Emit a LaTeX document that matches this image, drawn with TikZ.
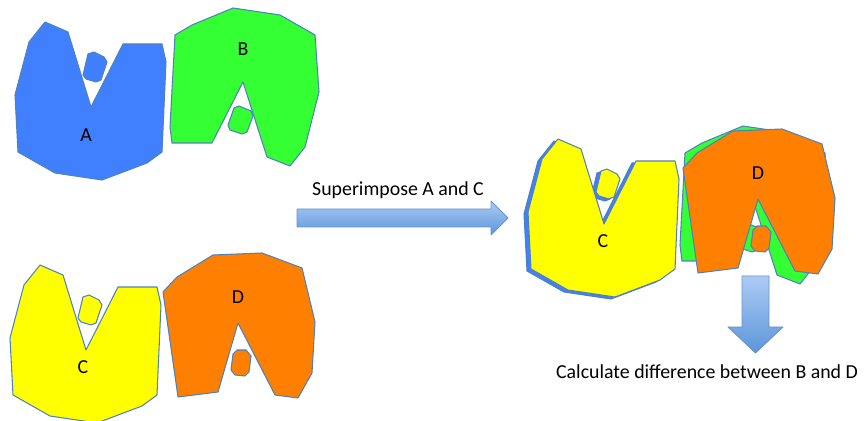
\documentclass[tikz,border=0pt]{standalone}
\usepackage{fontspec}
\setmainfont{Carlito}
\definecolor{BlobBlue}  {RGB}{64,128,255}
\definecolor{BlobGreen} {RGB}{51,255,51}
\definecolor{BlobYellow}{RGB}{255,255,0}
\definecolor{BlobOrange}{RGB}{255,128,0}
\definecolor{EdgeBlue}  {RGB}{79,129,189}
\definecolor{ArrowLight}{RGB}{172,203,245}
\definecolor{ArrowDark} {RGB}{92,150,218}
\usetikzlibrary{positioning}
%% outlines of the four pieces (pixel units)
\def\outlineAC{(45,22)--(68,32)--(91,107)--(123,44)--(162,44)--(166,62)--(162,152)
  --(147,163)--(102,180)--(55,173)--(18,152)--(15,95)--(29,42)--cycle}
\def\chipAC{(88,54)--(94,52)--(104,57)--(107,62)--(101,80)--(96,82)--(86,79)--(83,75)--cycle}
\def\outlineB{(175,35)--(192,25)--(233,8)--(280,15)--(315,35)--(319,92)--(305,147)
  --(290,166)--(267,157)--(243,82)--(212,143)--(172,143)--(170,127)--cycle}
\def\chipB{(234,108)--(239,106)--(251,111)--(253,116)--(247,132)--(242,134)--(230,130)--(228,125)--cycle}
\def\outlineD{(163,292)--(177,277)--(213,255)--(262,253)--(302,268)--(315,322)--(312,373)
  --(298,398)--(275,395)--(238,323)--(218,392)--(178,397)--cycle}
\def\chipD{(237,350)--(246,350)--(251,356)--(249,372)--(245,376)--(235,375)--(231,370)--(233,354)--cycle}

\begin{document}
\begin{tikzpicture}[x=0.02cm,y=-0.02cm,
    blob/.style={draw=EdgeBlue,line width=0.6pt,line join=round},
    lbl/.style={font=\fontsize{11.3}{13.5}\selectfont,inner sep=0pt},
    blockarrow/.style={draw=EdgeBlue!85,line width=0.5pt,line join=round,
                       top color=ArrowLight,bottom color=ArrowDark}]
  \useasboundingbox (0,0) rectangle (864,421);
  %% A and B
  \filldraw[blob,fill=BlobBlue] \outlineAC;
  \filldraw[blob,fill=BlobBlue] \chipAC;
  \filldraw[blob,fill=BlobGreen] \outlineB;
  \filldraw[blob,fill=BlobGreen] \chipB;
  \node[lbl] (labA) at (86,135) {A};
  \node[lbl] (labB) at (243,49) {B};
  %% C and D (C has the outline of A)
  \begin{scope}[shift={(-5,243)}]
    \filldraw[blob,fill=BlobYellow] \outlineAC;
    \filldraw[blob,fill=BlobYellow] \chipAC;
  \end{scope}
  \filldraw[blob,fill=BlobOrange] \outlineD;
  \filldraw[blob,fill=BlobOrange] \chipD;
  \node[lbl] (labC) at (83,367) {C};
  \node[lbl] (labD) at (238,297) {D};
  %% superimposed: A under C, B under D
  \begin{scope}[shift={(509,119)}]
    \filldraw[blob,fill=BlobBlue] \outlineAC;
    \filldraw[blob,fill=BlobBlue] \chipAC;
  \end{scope}
  \begin{scope}[shift={(513,117)}]
    \filldraw[blob,fill=BlobYellow] \outlineAC;
    \filldraw[blob,fill=BlobYellow] \chipAC;
  \end{scope}
  \begin{scope}[shift={(510,118)}]
    \filldraw[blob,fill=BlobGreen] \outlineB;
    \filldraw[blob,fill=BlobGreen] \chipB;
  \end{scope}
  \begin{scope}[shift={(520,-124)}]
    \filldraw[blob,fill=BlobOrange] \outlineD;
    \filldraw[blob,fill=BlobOrange] \chipD;
  \end{scope}
  \node[lbl] (labC2) at (603,241) {C};
  \node[lbl] (labD2) at (758,173) {D};
  %% step arrows
  \path[blockarrow] (297,209)--(491,209)--(491,201)--(508,218)--(491,235)--(491,227)
       --(297,227)--cycle;
  \node[lbl] (stepone) at (398,190) {Superimpose A and C};
  \path[blockarrow] (742,276)--(769,276)--(769,327)--(783,327)--(755.5,353)--(728,327)
       --(742,327)--cycle;
  \node[lbl] (steptwo) at (707,372) {Calculate difference between B and D};
\end{tikzpicture}
\end{document}
